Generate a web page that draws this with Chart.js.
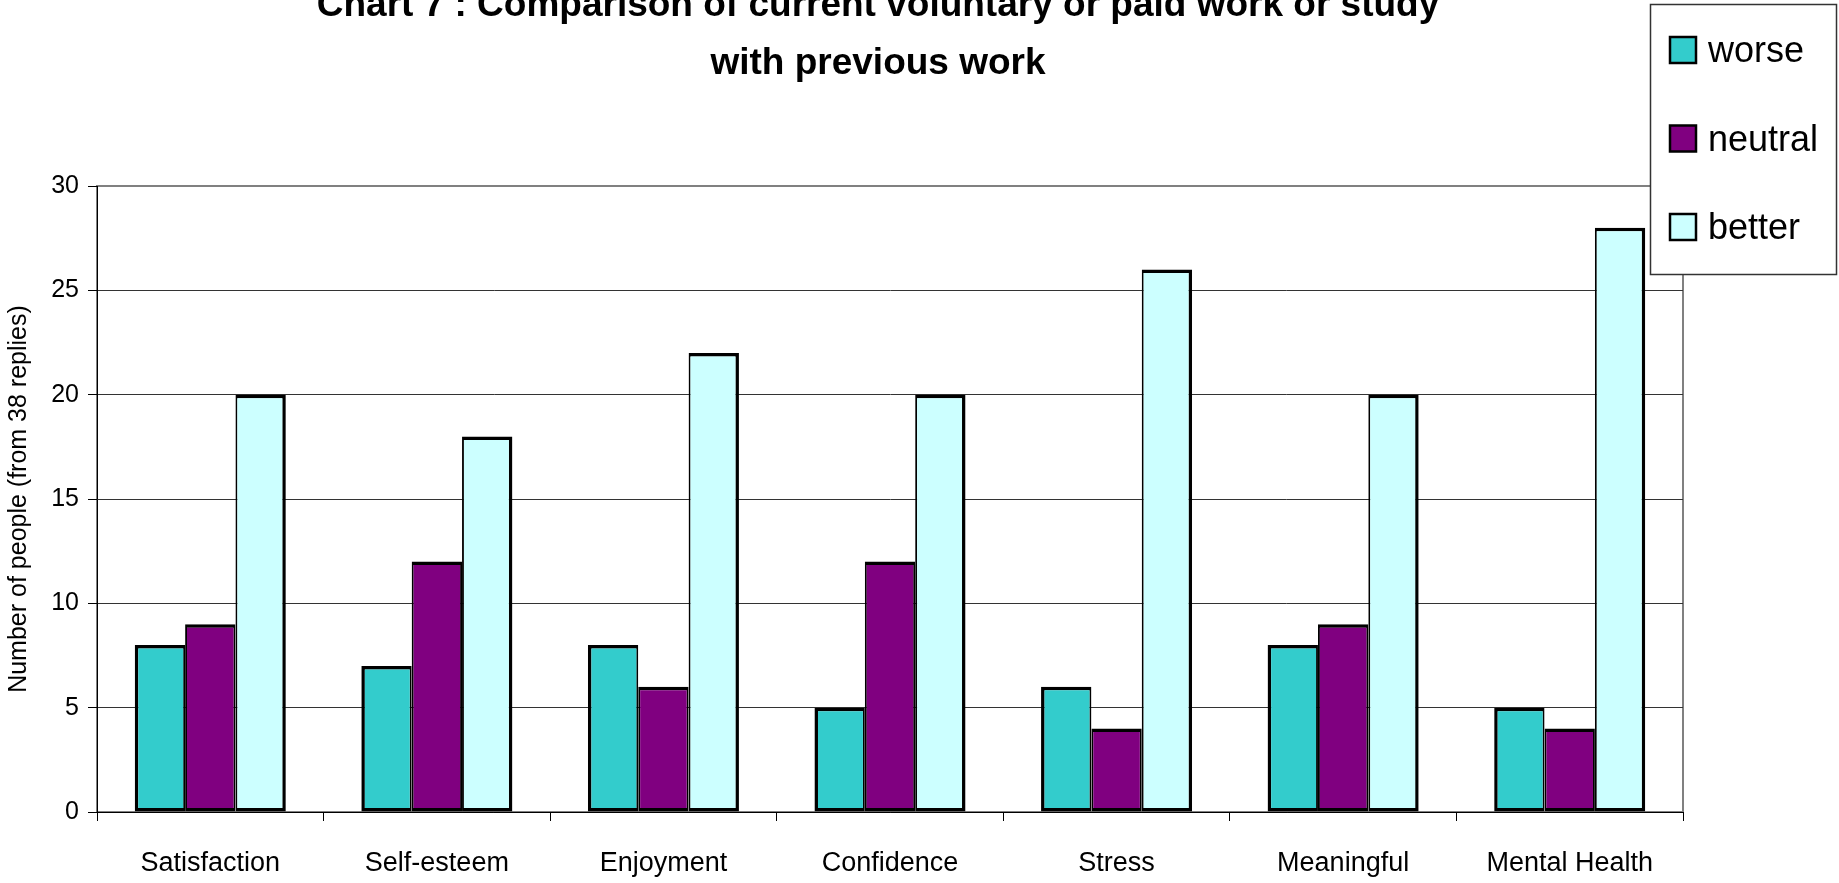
<!DOCTYPE html>
<html>
<head>
<meta charset="utf-8">
<title>Chart 7 : Comparison of current voluntary or paid work or study with previous work</title>
<script src="https://cdn.jsdelivr.net/npm/chart.js@4/dist/chart.umd.min.js"></script>
<style>
  html, body { margin: 0; padding: 0; background: #ffffff; }
  #wrap { width: 1839px; height: 883px; position: relative; }
</style>
</head>
<body>
<div id="wrap"><canvas id="chart" width="1839" height="883"></canvas></div>
<script>
// Survey answers: how current activity compares with previous work
const categories = ['Satisfaction', 'Self-esteem', 'Enjoyment', 'Confidence', 'Stress', 'Meaningful', 'Mental Health'];
const worse   = [8, 7, 8, 5, 6, 8, 5];
const neutral = [9, 12, 6, 12, 4, 9, 4];
const better  = [20, 18, 22, 20, 26, 20, 28];
const yTicks  = [0, 5, 10, 15, 20, 25, 30];

const titleLines = ['Chart 7 : Comparison of current voluntary or paid work or study', 'with previous work'];
const yTitle = 'Number of people (from 38 replies)';

const FONT = "'Liberation Sans', Arial, sans-serif";

// Plot-area background and grey frame (drawn under the grid and bars)
const plotFrame = {
  id: 'plotFrame',
  beforeDraw(chart) {
    const { ctx, chartArea: a } = chart;
    ctx.save();
    ctx.fillStyle = '#ffffff';
    ctx.fillRect(0, 0, chart.width, chart.height);
    ctx.strokeStyle = '#808080';
    ctx.lineWidth = 2;
    ctx.strokeRect(a.left, a.top, a.right - a.left, a.bottom - a.top);
    ctx.restore();
  }
};

// Two-line bold heading
const heading = {
  id: 'heading',
  afterDraw(chart) {
    const { ctx } = chart;
    ctx.save();
    ctx.fillStyle = '#000';
    ctx.font = 'bold 37px ' + FONT;
    ctx.textAlign = 'center';
    ctx.textBaseline = 'alphabetic';
    const cx = 878;
    ctx.fillText(titleLines[0], cx, 16);
    ctx.fillText(titleLines[1], cx, 74);
    ctx.restore();
  }
};

// Boxed legend in the top-right corner, built from the datasets
const boxLegend = {
  id: 'boxLegend',
  afterDraw(chart) {
    const { ctx } = chart;
    const box = { x: 1650.5, y: 4.5, w: 186, h: 270 };
    ctx.save();
    ctx.fillStyle = '#ffffff';
    ctx.fillRect(box.x, box.y, box.w, box.h);
    ctx.strokeStyle = '#333';
    ctx.lineWidth = 1.5;
    ctx.strokeRect(box.x, box.y, box.w, box.h);
    ctx.font = '36px ' + FONT;
    ctx.textAlign = 'left';
    ctx.textBaseline = 'alphabetic';
    chart.data.datasets.forEach((ds, i) => {
      const cy = 50 + i * 88.5;
      const s = 26;
      ctx.fillStyle = ds.backgroundColor;
      ctx.fillRect(1670, cy - s / 2, s, s);
      ctx.strokeStyle = '#000';
      ctx.lineWidth = 2.5;
      ctx.strokeRect(1670, cy - s / 2, s, s);
      ctx.fillStyle = '#000';
      ctx.fillText(ds.label, 1708, cy + 12);
    });
    ctx.restore();
  }
};

const outer = 3.5, inner = 1.9;
new Chart(document.getElementById('chart'), {
  type: 'bar',
  data: {
    labels: categories,
    datasets: [
      { label: 'worse',   data: worse,   backgroundColor: '#33CCCC',
        borderWidth: { left: outer, right: inner, top: outer, bottom: outer } },
      { label: 'neutral', data: neutral, backgroundColor: '#800080',
        borderWidth: { left: inner, right: inner, top: outer, bottom: outer } },
      { label: 'better',  data: better,  backgroundColor: '#CCFFFF',
        borderWidth: { left: inner, right: outer, top: outer, bottom: outer } }
    ].map(d => Object.assign(d, {
      borderColor: '#000000',
      borderSkipped: false,
      categoryPercentage: 3 / 4.5,
      barPercentage: 1.0
    }))
  },
  options: {
    responsive: false,
    animation: false,
    devicePixelRatio: 1,
    layout: { padding: { top: 186, right: 156, left: 0, bottom: 0 } },
    plugins: {
      legend: { display: false },
      title: { display: false },
      tooltip: { enabled: false }
    },
    scales: {
      x: {
        offset: true,
        afterFit(scale) { scale.height = 71; },
        grid: {
          display: true,
          drawOnChartArea: false,
          drawTicks: true,
          tickLength: 9,
          offset: true,
          tickColor: '#000',
          tickWidth: 1
        },
        border: { display: true, color: '#000', width: 1 },
        ticks: {
          color: '#000',
          font: { family: FONT, size: 27 },
          padding: 26,
          maxRotation: 0,
          autoSkip: false
        }
      },
      y: {
        min: yTicks[0],
        max: yTicks[yTicks.length - 1],
        afterFit(scale) { scale.width = 97; },
        afterBuildTicks(scale) { scale.ticks = yTicks.map(v => ({ value: v })); },
        grid: {
          color: (c) => (c.tick && c.tick.value === yTicks[yTicks.length - 1]) ? '#808080' : '#333333',
          lineWidth: 1,
          drawTicks: true,
          tickLength: 9,
          tickColor: '#000',
          tickWidth: 1
        },
        border: { display: true, color: '#000', width: 1 },
        ticks: {
          color: '#000',
          font: { family: FONT, size: 25 },
          padding: 9
        },
        title: {
          display: true,
          text: yTitle,
          color: '#000',
          font: { family: FONT, size: 25 },
          padding: { top: 4, bottom: 0 }
        }
      }
    }
  },
  plugins: [plotFrame, heading, boxLegend]
});
</script>
</body>
</html>
